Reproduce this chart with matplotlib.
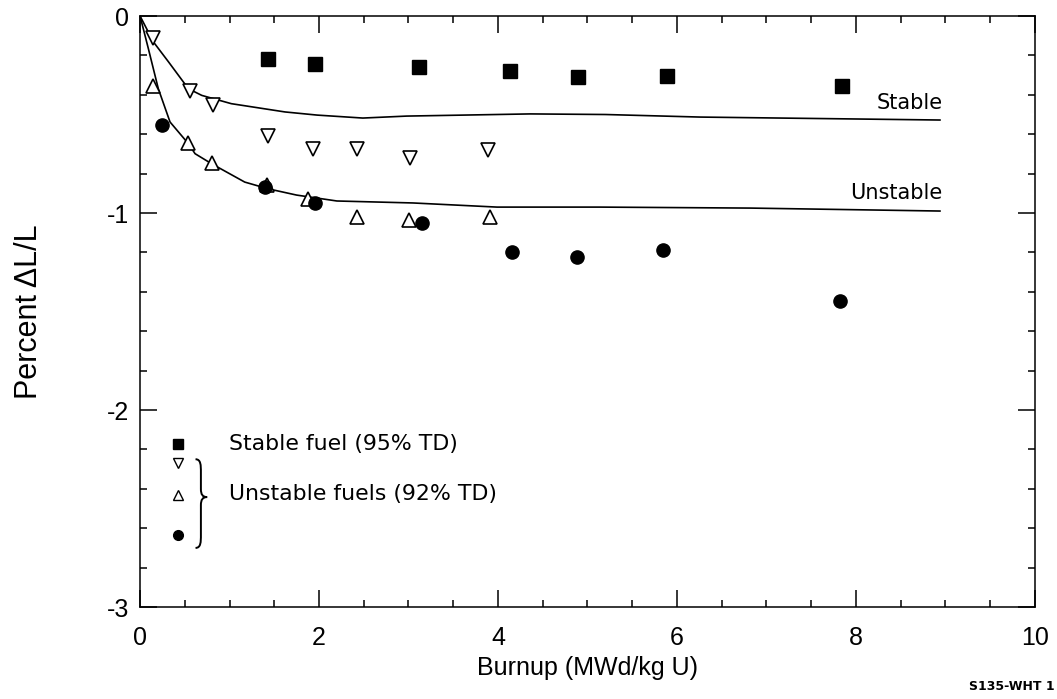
import numpy as np
import matplotlib
matplotlib.use("Agg")
import matplotlib.pyplot as plt
from matplotlib.ticker import MultipleLocator
from matplotlib.path import Path
from matplotlib.patches import PathPatch

plt.rcParams['font.family'] = ['Liberation Sans', 'DejaVu Sans']

# Stable fuel (95% TD), filled squares
stable_x = [1.43, 1.95, 3.12, 4.13, 4.90, 5.89, 7.84]
stable_y = [-0.218, -0.244, -0.259, -0.28, -0.31, -0.305, -0.355]

# Unstable fuels (92% TD)
down_x = [0.14, 0.56, 0.81, 1.43, 1.93, 2.43, 3.02, 3.89]
down_y = [-0.11, -0.38, -0.45, -0.61, -0.675, -0.675, -0.72, -0.68]

up_x = [0.14, 0.54, 0.80, 1.42, 1.88, 2.42, 3.01, 3.91]
up_y = [-0.355, -0.643, -0.745, -0.86, -0.93, -1.02, -1.035, -1.02]

circle_x = [0.25, 1.40, 1.96, 3.15, 4.16, 4.88, 5.84, 7.82]
circle_y = [-0.553, -0.867, -0.948, -1.05, -1.20, -1.223, -1.19, -1.447]

# model curves
stable_curve_x = [0.0, 0.15, 0.32, 0.54, 0.69, 1.02, 1.62, 1.98, 2.49, 2.98, 3.61, 4.36, 5.2, 6.26, 8.94]
stable_curve_y = [0.0, -0.132, -0.234, -0.369, -0.403, -0.445, -0.487, -0.503, -0.518, -0.508, -0.503, -0.497, -0.5, -0.513, -0.528]

unstable_curve_x = [0.0, 0.093, 0.204, 0.335, 0.54, 0.615, 0.80, 1.17, 1.43, 1.75, 2.20, 3.05, 3.99, 5.14, 6.82, 8.94]
unstable_curve_y = [0.0, -0.166, -0.369, -0.538, -0.648, -0.699, -0.75, -0.843, -0.877, -0.909, -0.939, -0.949, -0.970, -0.970, -0.975, -0.99]

fig = plt.figure(figsize=(10.57, 6.99), dpi=100)
ax = fig.add_axes([0.1325, 0.1316, 0.8465, 0.8455])

ax.plot(stable_curve_x, stable_curve_y, color="black", lw=1.2)
ax.plot(unstable_curve_x, unstable_curve_y, color="black", lw=1.2)

ax.plot(stable_x, stable_y, "s", color="black", ms=9.5)
ax.plot(down_x, down_y, "v", mfc="white", mec="black", mew=1.2, ms=10)
ax.plot(up_x, up_y, "^", mfc="white", mec="black", mew=1.2, ms=10)
ax.plot(circle_x, circle_y, "o", color="black", ms=9.5)

ax.text(8.97, -0.44, "Stable", ha="right", va="center", fontsize=15, family="DejaVu Sans")
ax.text(8.97, -0.90, "Unstable", ha="right", va="center", fontsize=15, family="DejaVu Sans")

# legend block drawn by hand
tr = ax.transAxes
ax.plot([0.042], [0.275], "s", color="black", ms=6.5, transform=tr)
ax.plot([0.042], [0.243], "v", mfc="white", mec="black", mew=1, ms=7, transform=tr)
ax.plot([0.042], [0.190], "^", mfc="white", mec="black", mew=1, ms=7, transform=tr)
ax.plot([0.042], [0.122], "o", color="black", ms=7, transform=tr)
ax.text(0.099, 0.275, "Stable fuel (95% TD)", transform=tr, va="center", fontsize=15.8, family="DejaVu Sans")
ax.text(0.099, 0.192, "Unstable fuels (92% TD)", transform=tr, va="center", fontsize=15.8, family="DejaVu Sans")

# curly brace next to the unstable symbols
verts = [(0.062, 0.250),
         (0.068, 0.250), (0.068, 0.240), (0.068, 0.228),
         (0.068, 0.200),
         (0.068, 0.190), (0.070, 0.186), (0.075, 0.186),
         (0.070, 0.186), (0.068, 0.182), (0.068, 0.172),
         (0.068, 0.122),
         (0.068, 0.110), (0.068, 0.100), (0.062, 0.100)]
codes = [Path.MOVETO,
         Path.CURVE4, Path.CURVE4, Path.CURVE4,
         Path.LINETO,
         Path.CURVE4, Path.CURVE4, Path.CURVE4,
         Path.CURVE4, Path.CURVE4, Path.CURVE4,
         Path.LINETO,
         Path.CURVE4, Path.CURVE4, Path.CURVE4]
ax.add_patch(PathPatch(Path(verts, codes), transform=tr, fill=False, lw=1.4, ec="black"))

ax.set_xlim(0, 10)
ax.set_ylim(-3, 0)
ax.xaxis.set_major_locator(MultipleLocator(2))
ax.xaxis.set_minor_locator(MultipleLocator(0.5))
ax.yaxis.set_major_locator(MultipleLocator(1))
ax.yaxis.set_minor_locator(MultipleLocator(0.2))
ax.tick_params(which="both", direction="in", top=True, right=True, labelsize=18, width=1.1)
ax.tick_params(which="major", length=12)
ax.tick_params(which="minor", length=5)
ax.tick_params(axis="x", which="major", pad=14)
ax.tick_params(axis="y", which="major", pad=8)
for s in ax.spines.values():
    s.set_linewidth(1.1)

ax.set_yticks([0, -1, -2, -3])
ax.set_yticklabels(["0", "-1", "-2", "-3"])

ax.set_xlabel("Burnup (MWd/kg U)", fontsize=18, labelpad=4)
ax.set_ylabel("Percent \u0394L/L", fontsize=22, labelpad=45)

fig.text(0.998, 0.008, "S135-WHT 1", ha="right", va="bottom", fontsize=9, fontweight="bold",
         family="DejaVu Sans")

fig.savefig("out.png", dpi=100)
